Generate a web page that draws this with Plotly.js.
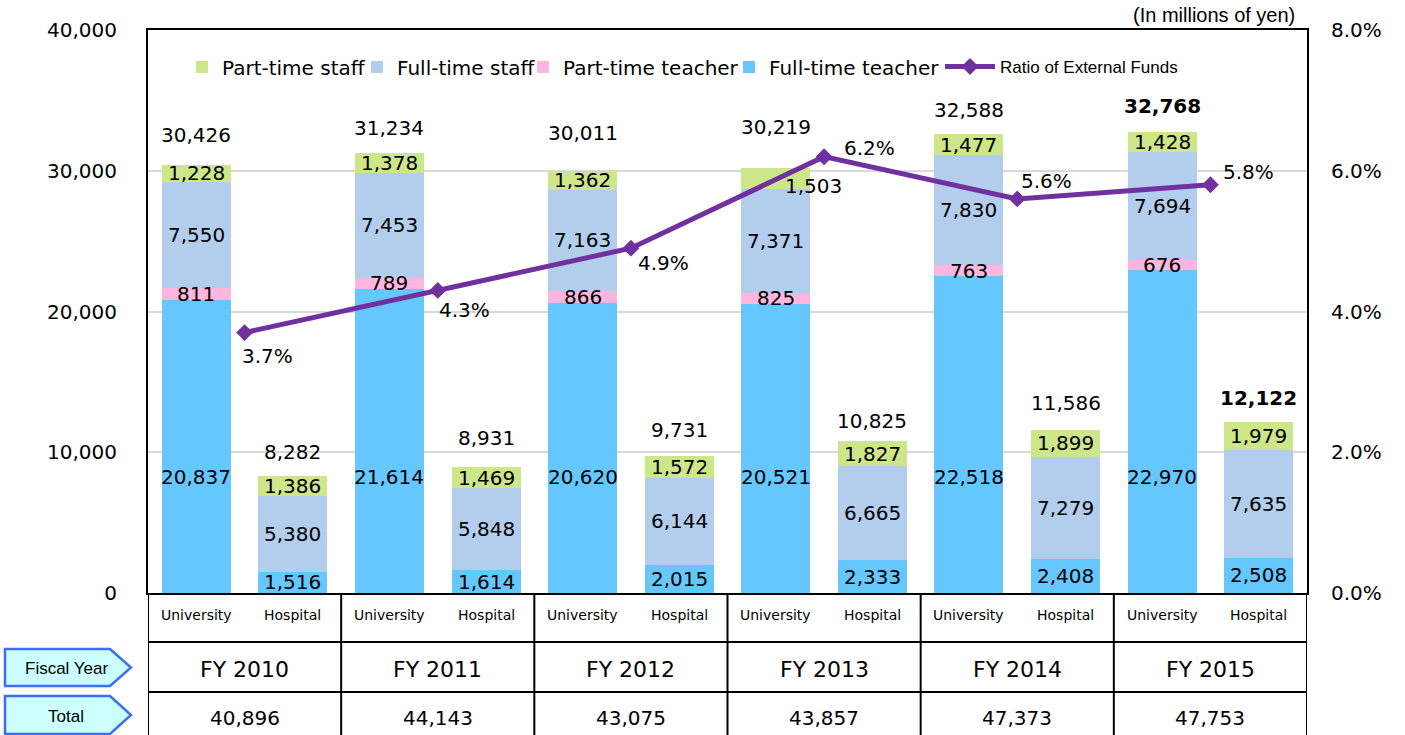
<!DOCTYPE html>
<html><head><meta charset="utf-8">
<script src="https://cdn.plot.ly/plotly-3.0.1.min.js"></script>
<style>html,body{margin:0;padding:0;background:#fff}#chart{width:1405px;height:735px}</style>
</head><body><div id="chart"></div>
<script>
// ---------------- DATA ----------------
const fiscalYears = ['FY 2010','FY 2011','FY 2012','FY 2013','FY 2014','FY 2015'];
const unitLabels = ['University','Hospital'];
const uniFullTeacher = [20837,21614,20620,20521,22518,22970];
const uniPartTeacher = [811,789,866,825,763,676];
const uniFullStaff   = [7550,7453,7163,7371,7830,7694];
const uniPartStaff   = [1228,1378,1362,1503,1477,1428];
const uniTotal       = [30426,31234,30011,30219,32588,32768];
const hospFullTeacher = [1516,1614,2015,2333,2408,2508];
const hospFullStaff   = [5380,5848,6144,6665,7279,7635];
const hospPartStaff   = [1386,1469,1572,1827,1899,1979];
const hospTotal       = [8282,8931,9731,10825,11586,12122];
const externalRatio   = [3.7,4.3,4.9,6.2,5.6,5.8];
const grandTotal      = [40896,44143,43075,43857,47373,47753];
const ratioTicks      = [0,2,4,6,8];
const seriesNames = ['Full-time teacher','Part-time teacher','Full-time staff','Part-time staff'];
const lineName = 'Ratio of External Funds';
const unitNote = '(In millions of yen)';
const rowTags = ['Fiscal Year','Total'];

// ---------------- STYLE / LAYOUT ----------------
const colors = {ft:'#66c7ff', pt:'#ffb5de', fs:'#b3cdec', ps:'#cde68a', line:'#7030a0'};
const FONT = 'DejaVu Sans, Verdana, sans-serif';
const highlightIndex = 5;
const uniTeacherLabelY = 8250;
const uniTotalShift  = [30,25,38,41,24,26];
const hospTotalShift = [24,29,26,20,27,24];
const ratioLabelShift = [[-5,-23],[-1,-20],[5,-15],[18,9],[2,18],[11,13]];

const L = 148, R = 1307, T = 30, B = 593;
const W = R - L, H = B - T;
const pX = x => (x - L) / W;
const pY = y => (B - y) / H;

const nG = fiscalYears.length;
const xs = [], uniX = [], hospX = [], midX = [];
for (let g = 0; g < nG; g++) { uniX.push(2*g); hospX.push(2*g+1); midX.push(2*g+0.5); xs.push(2*g, 2*g+1); }
const inter = (a, b) => { const o = []; for (let g = 0; g < nG; g++) o.push(a[g], b ? b[g] : null); return o; };
const fmt = v => v.toLocaleString('en-US');

const barW = 0.714;
const traces = [
  {type:'bar', name:seriesNames[0], x:xs, y:inter(uniFullTeacher, hospFullTeacher), marker:{color:colors.ft}, width:barW, legend:'legend4', hoverinfo:'y'},
  {type:'bar', name:seriesNames[1], x:xs, y:inter(uniPartTeacher, null), marker:{color:colors.pt}, width:barW, legend:'legend3', hoverinfo:'y'},
  {type:'bar', name:seriesNames[2], x:xs, y:inter(uniFullStaff, hospFullStaff), marker:{color:colors.fs}, width:barW, legend:'legend2', hoverinfo:'y'},
  {type:'bar', name:seriesNames[3], x:xs, y:inter(uniPartStaff, hospPartStaff), marker:{color:colors.ps}, width:barW, legend:'legend', hoverinfo:'y'},
  {type:'scatter', mode:'lines+markers', name:lineName, x:midX, y:externalRatio, yaxis:'y2',
   line:{color:colors.line, width:5}, marker:{symbol:'diamond', size:13, color:colors.line}, legend:'legend5'}
];

const ann = [];
const lab = (x, y, text, opt) => ann.push(Object.assign({x, y, xref:'x', yref:'y', text, showarrow:false,
  xanchor:'center', yanchor:'middle', font:{family:FONT, size:20, color:'#000'}}, opt || {}));
const plab = (x, y, xref, text, font, opt) => ann.push(Object.assign({x, y, xref, yref:'paper', text, showarrow:false,
  xanchor:'center', yanchor:'middle', font}, opt || {}));

for (let g = 0; g < nG; g++) {
  const ux = uniX[g], hx = hospX[g];
  lab(ux, uniTeacherLabelY, fmt(uniFullTeacher[g]));
  lab(ux, uniFullTeacher[g] + uniPartTeacher[g]/2, fmt(uniPartTeacher[g]));
  const b2 = uniFullTeacher[g] + uniPartTeacher[g];
  lab(ux, b2 + uniFullStaff[g]/2, fmt(uniFullStaff[g]));
  const b3 = b2 + uniFullStaff[g];
  lab(ux, b3 + uniPartStaff[g]/2, fmt(uniPartStaff[g]), g === 3 ? {xshift:38, yshift:-8} : {});
  const bold = g === highlightIndex;
  lab(ux, uniTotal[g], bold ? '<b>'+fmt(uniTotal[g])+'</b>' : fmt(uniTotal[g]), {yshift:uniTotalShift[g]});
  lab(hx, hospFullTeacher[g]/2, fmt(hospFullTeacher[g]));
  lab(hx, hospFullTeacher[g] + hospFullStaff[g]/2, fmt(hospFullStaff[g]));
  const h3 = hospFullTeacher[g] + hospFullStaff[g];
  lab(hx, h3 + hospPartStaff[g]/2, fmt(hospPartStaff[g]));
  lab(hx, hospTotal[g], bold ? '<b>'+fmt(hospTotal[g])+'</b>' : fmt(hospTotal[g]), {yshift:hospTotalShift[g]});
  ann.push({x:midX[g], y:externalRatio[g], xref:'x', yref:'y2', text:externalRatio[g].toFixed(1)+'%', showarrow:false,
    xanchor:'left', yanchor:'middle', xshift:ratioLabelShift[g][0], yshift:ratioLabelShift[g][1], font:{family:FONT, size:20, color:'#000'}});
  plab(ux, pY(615), 'x', unitLabels[0], {family:FONT, size:14, color:'#000'});
  plab(hx, pY(615), 'x', unitLabels[1], {family:FONT, size:14, color:'#000'});
  plab(midX[g], pY(669), 'x', fiscalYears[g], {family:FONT, size:22, color:'#000'});
  plab(midX[g], pY(718), 'x', fmt(grandTotal[g]), {family:FONT, size:20, color:'#000'});
}
const SANS = 'Liberation Sans, Arial, sans-serif';
plab(pX(1297), pY(15), 'paper', unitNote, {family:SANS, size:20, color:'#000'}, {xanchor:'right'});
plab(pX(66), pY(668), 'paper', rowTags[0], {family:SANS, size:17, color:'#000'});
plab(pX(66), pY(716), 'paper', rowTags[1], {family:SANS, size:17, color:'#000'});

const shapes = [];
const tableLine = {color:'#000', width:2};
[642, 692].forEach(y => shapes.push({type:'line', xref:'paper', yref:'paper', x0:0, x1:1, y0:pY(y), y1:pY(y), line:tableLine}));
for (let g = 0; g <= nG; g++) {
  shapes.push({type:'line', xref:'x', yref:'paper', x0:2*g-0.5, x1:2*g-0.5, y0:0, y1:pY(760), line:tableLine});
}
const tag = (y0, y1) => {
  const ym = (y0 + y1) / 2;
  const pts = [[5,y0],[110,y0],[131,ym],[110,y1],[5,y1]];
  return {type:'path', xref:'paper', yref:'paper',
    path:'M' + pts.map(p => pX(p[0]).toFixed(5) + ',' + pY(p[1]).toFixed(5)).join(' L') + ' Z',
    fillcolor:'#ccffff', line:{color:'#3d6ef5', width:2.5}};
};
shapes.push(tag(649, 686));
shapes.push(tag(696, 734));

const legFont = {family:FONT, size:20, color:'#000'};
const legBase = {orientation:'h', yanchor:'middle', y:pY(67), xanchor:'left', bgcolor:'rgba(0,0,0,0)', font:legFont, borderwidth:0, itemclick:false, itemdoubleclick:false};

const layout = {
  width:1405, height:735,
  margin:{l:L, r:1405-R, t:T, b:735-B, pad:0},
  paper_bgcolor:'#fff', plot_bgcolor:'#fff',
  barmode:'stack', bargap:0,
  font:{family:FONT, size:20, color:'#000'},
  showlegend:true,
  xaxis:{range:[-0.5, 2*nG-0.5], showticklabels:false, ticks:'', showgrid:false, zeroline:false,
    showline:true, mirror:true, linecolor:'#000', linewidth:2, fixedrange:true},
  yaxis:{range:[0,40000], dtick:10000, tickformat:',d', showgrid:true, gridcolor:'#d9d9d9', gridwidth:2,
    zeroline:false, showline:true, mirror:true, linecolor:'#000', linewidth:2, ticks:'', ticklabelstandoff:25,
    tickfont:{family:FONT, size:20, color:'#000'}, fixedrange:true},
  yaxis2:{range:[0,8], overlaying:'y', side:'right', tickmode:'array', tickvals:ratioTicks,
    ticktext:ratioTicks.map(v => v.toFixed(1) + '%'),
    showgrid:false, zeroline:false, showline:false, ticks:'', ticklabelstandoff:23,
    tickfont:{family:FONT, size:20, color:'#000'}, fixedrange:true},
  legend: Object.assign({}, legBase, {x:pX(182)}),
  legend2: Object.assign({}, legBase, {x:pX(357)}),
  legend3: Object.assign({}, legBase, {x:pX(523)}),
  legend4: Object.assign({}, legBase, {x:pX(729)}),
  legend5: Object.assign({}, legBase, {x:pX(940), itemwidth:50, font:{family:'Liberation Sans Narrow, Arial Narrow, sans-serif', size:17, color:'#000'}}),
  annotations: ann,
  shapes: shapes
};

Plotly.newPlot('chart', traces, layout, {displayModeBar:false, staticPlot:true});
</script>
</body></html>
